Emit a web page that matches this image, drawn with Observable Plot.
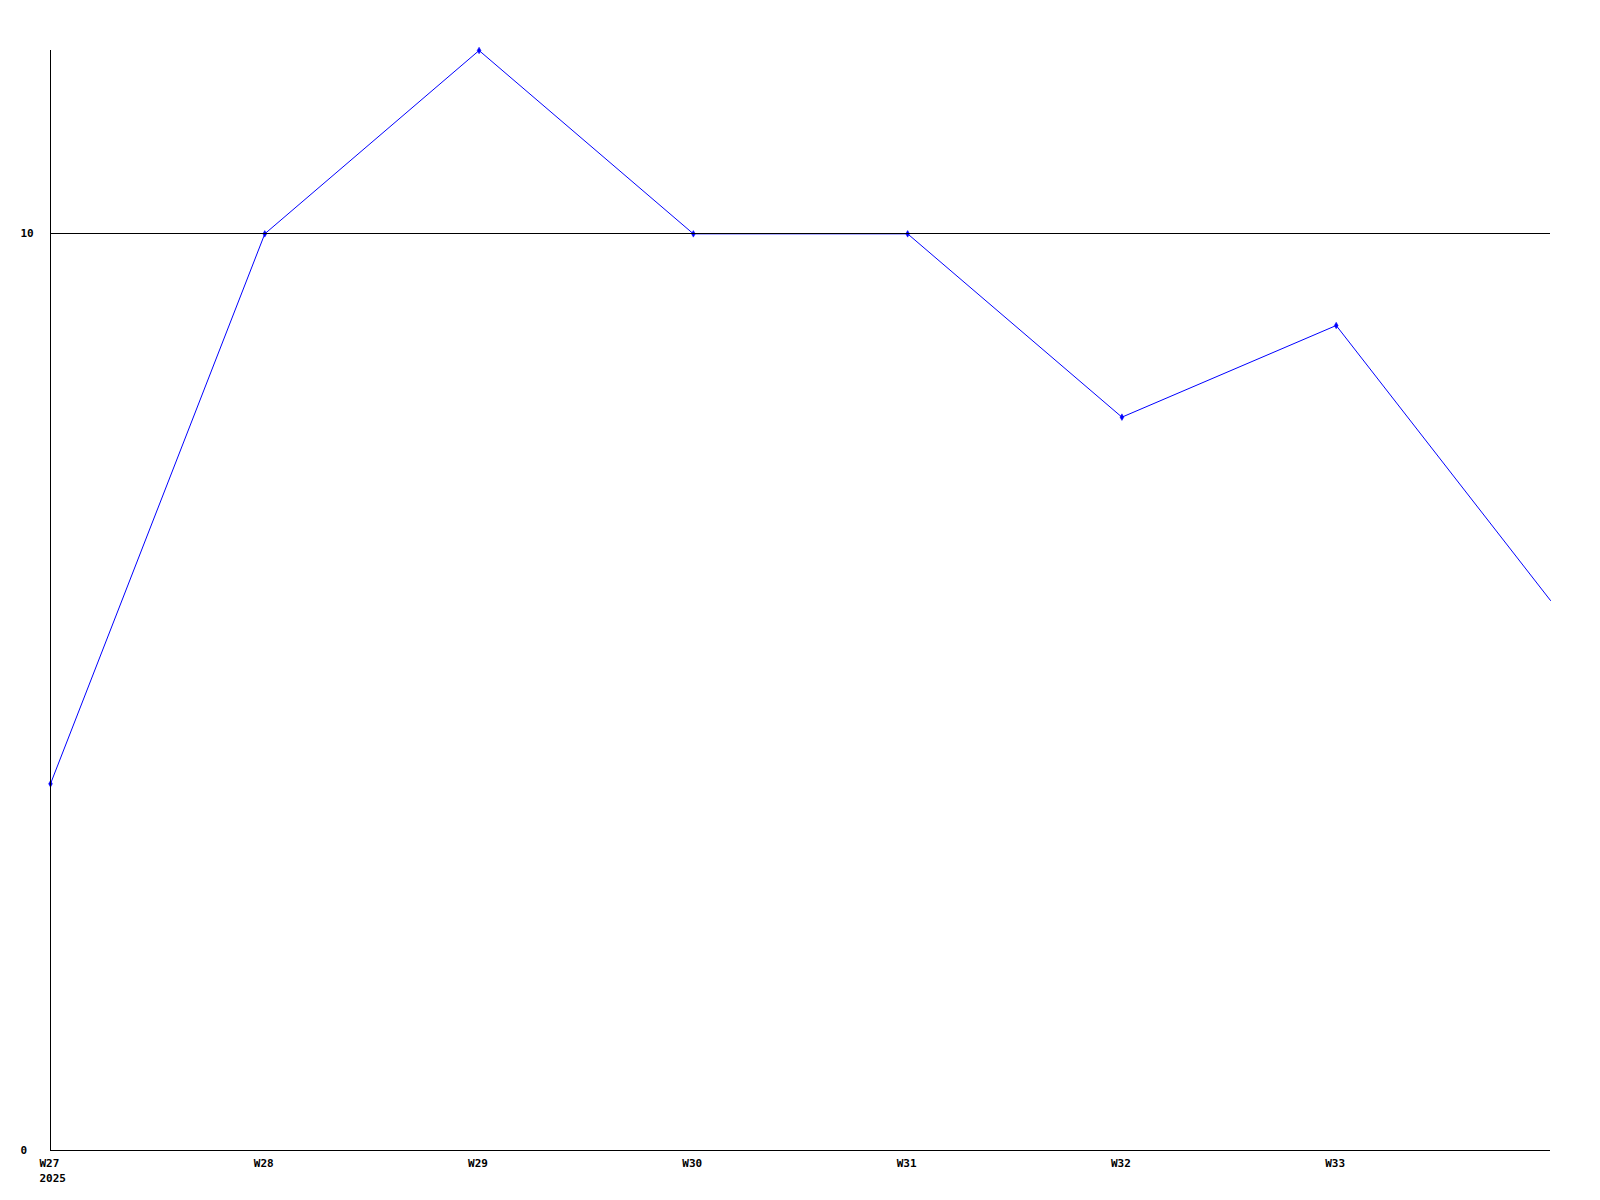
<!DOCTYPE html>
<html>
<head>
<meta charset="utf-8">
<script src="https://cdn.jsdelivr.net/npm/d3@7"></script>
<script src="https://cdn.jsdelivr.net/npm/@observablehq/plot@0.6"></script>
<style>
  html, body { margin: 0; padding: 0; background: #fff; }
  #chart svg { display: block; }
</style>
</head>
<body>
<div id="chart"></div>
<script>
// Weekly series (last point W34 has no label / marker in the reference)
const weeks = ["W27", "W28", "W29", "W30", "W31", "W32", "W33", "W34"];
const values = [4, 10, 12, 10, 10, 8, 9, 6];
const tickLabels = ["W27", "W28", "W29", "W30", "W31", "W32", "W33"];
const yearLabel = "2025";
const yTicks = [0, 10];

const data = weeks.map((w, i) => ({ i, week: w, value: values[i] }));
const markerData = data.filter(d => tickLabels.includes(d.week));

const chart = Plot.plot({
  width: 1600,
  height: 1200,
  marginLeft: 50,
  marginRight: 50,
  marginTop: 50,
  marginBottom: 50,
  style: {
    background: "#ffffff",
    color: "#000000",
    fontFamily: "'DejaVu Sans Mono', 'Liberation Mono', monospace",
    fontSize: "11px",
    fontWeight: "bold"
  },
  x: { type: "linear", domain: [0, weeks.length - 1], label: null },
  y: { domain: [0, 12], label: null },
  marks: [
    Plot.line(data, { x: "i", y: "value", stroke: "#0000ff", strokeWidth: 1 }),
    Plot.dot(markerData, { x: "i", y: "value", symbol: "diamond", r: 2, fill: "#0000ff", stroke: "#0000ff", strokeWidth: 0.5 }),
    Plot.ruleY(yTicks, { stroke: "#000000", strokeWidth: 1, shapeRendering: "crispEdges" }),
    Plot.ruleX([0], { stroke: "#000000", strokeWidth: 1, shapeRendering: "crispEdges" }),
    Plot.axisX({
      ticks: tickLabels.map((_, i) => i),
      tickSize: 0,
      tickPadding: 6,
      textAnchor: "start",
      dx: -11,
      lineHeight: 1.35,
      label: null,
      tickFormat: i => (i === 0 ? tickLabels[i] + "\n" + yearLabel : tickLabels[i])
    }),
    Plot.axisY({
      ticks: yTicks,
      tickSize: 0,
      tickPadding: 30,
      textAnchor: "start",
      label: null,
      tickFormat: d => String(d)
    })
  ]
});

document.getElementById("chart").appendChild(chart);
</script>
</body>
</html>
